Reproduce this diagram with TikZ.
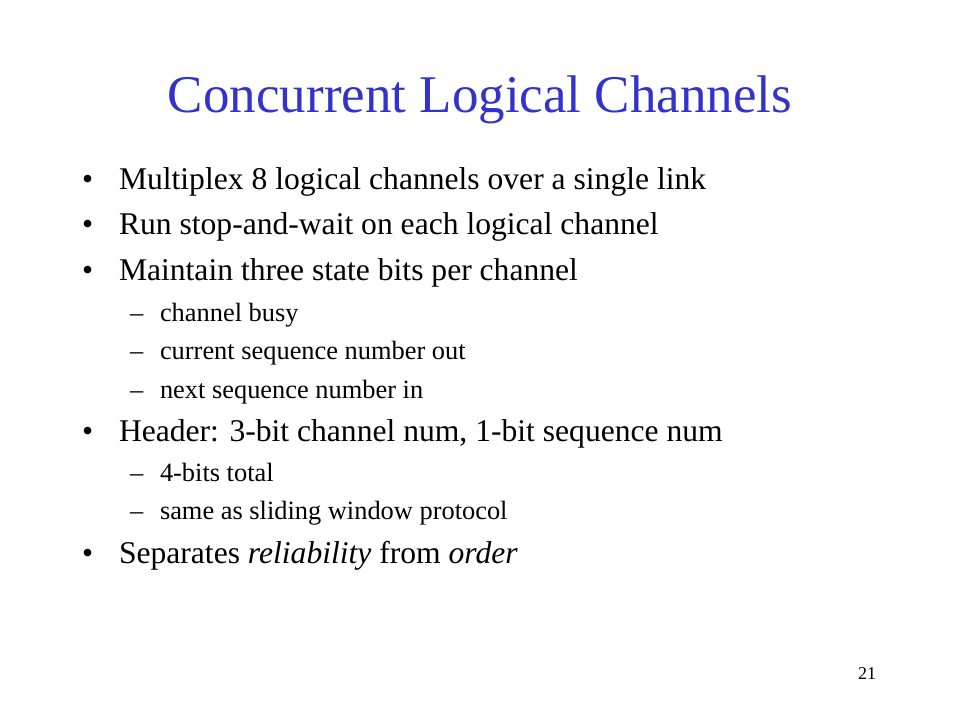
\documentclass[tikz,border=0pt]{standalone}
\usepackage{fontspec}
\setmainfont{Liberation Serif}
\definecolor{titleblue}{HTML}{3333CC}
\begin{document}
\begin{tikzpicture}[x=1pt,y=-1pt,
  every node/.style={inner sep=0pt,outer sep=0pt,anchor=base west},
  lvlone/.style={font=\fontsize{31.6}{36}\selectfont},
  lvltwo/.style={font=\fontsize{26.4}{30}\selectfont},
  titletext/.style={font=\fontsize{53}{60}\selectfont,text=titleblue,anchor=base}]
\useasboundingbox[fill=white] (0,0) rectangle (960,720);
\node[titletext] (title) at (480,112) {Concurrent Logical Channels};
\foreach \y/\t [count=\i] in {189/{Multiplex 8 logical channels over a single link},
  234/{Run stop-and-wait on each logical channel},
  280/{Maintain three state bits per channel},
  441/{Header: 3-bit channel num, 1-bit sequence num},
  563/{Separates \textit{reliability} from \textit{order}}}{
  \node[lvlone] (b\i) at (82,\y) {\textbullet};
  \node[lvlone] (t\i) at (119,\y) {\t};
}
\foreach \y/\t [count=\i] in {321/{channel busy},359/{current sequence number out},398/{next sequence number in},481/{4-bits total},519/{same as sliding window protocol}}{
  \node[lvltwo] (d\i) at (130,\y) {--};
  \node[lvltwo] (s\i) at (160,\y) {\t};
}
\node[font=\fontsize{18}{20}\selectfont] (pg) at (858,679) {21};
\end{tikzpicture}
\end{document}
